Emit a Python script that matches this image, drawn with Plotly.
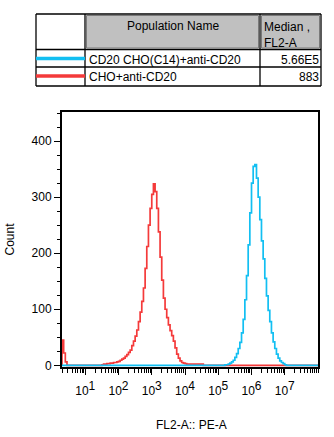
import plotly.graph_objects as go

# ---- data -------------------------------------------------------------
# Histogram channels on a log10 scale: each segment is (first bin edge in
# log10 units, bin width in log10 units, counts per bin).
BIN_W = 0.05

red_name = "CHO+anti-CD20"
red_median = "883"
red_spike_start = 0.30
red_spike = [45, 22, 6]
red_main_start = 1.50
red_main = [1, 2, 2, 3, 3, 4, 4, 5, 5, 6,
            7, 9, 11, 13, 16, 19, 23, 27, 35, 43,
            52, 63, 78, 95, 114, 138, 173, 212, 250, 280,
            305, 324, 310, 280, 238, 193, 152, 120, 100, 85,
            72, 62, 53, 43, 31, 20, 13, 8, 5, 4,
            3, 2, 2, 2, 2, 2, 2, 2, 2, 2, 2]

blue_name = "CD20 CHO(C14)+anti-CD20"
blue_median = "5.66E5"
blue_main_start = 5.20
blue_main = [1, 1, 2, 4, 6, 9, 14, 21, 30, 41,
             58, 82, 117, 160, 215, 272, 325, 355, 358, 334,
             300, 260, 222, 190, 155, 124, 98, 78, 58, 42,
             30, 20, 13, 8, 5, 3, 1]

x_decades = [1, 2, 3, 4, 5, 6, 7]
y_ticks = [0, 100, 200, 300, 400]

header_name = "Population Name"
header_stat = ["Median ,", "FL2-A"]

# ---- styling ----------------------------------------------------------
FONT = "Liberation Sans, Arial, sans-serif"
RED = "#f43a3a"
BLUE = "#12bff2"
X_RANGE = [0.30, 8.0]
Y_RANGE = [-3, 452]

W, H = 334, 437
ML, MR, MT, MB = 62, 16, 112, 70
PW, PH = W - ML - MR, H - MT - MB


def px(x):
    return (x - ML) / PW


def py(y):
    return (H - MB - y) / PH


def step_xy(segments, lo, hi):
    xs, ys = [lo], [0]
    for start, width, counts in segments:
        xs.append(start)
        ys.append(0)
        for i, c in enumerate(counts):
            xs.append(start + i * width)
            ys.append(c)
        xs.append(start + len(counts) * width)
        ys.append(0)
    xs.append(hi)
    ys.append(0)
    return [10 ** v for v in xs], ys


fig = go.Figure()

rx, ry = step_xy([(red_spike_start, BIN_W, red_spike),
                  (red_main_start, BIN_W, red_main)], X_RANGE[0], X_RANGE[1])
bx, by = step_xy([(blue_main_start, BIN_W, blue_main)], X_RANGE[0], X_RANGE[1])

fig.add_trace(go.Scatter(x=rx, y=ry, mode="lines", line=dict(color=RED, width=1.7, shape="hv"),
                         name=red_name, showlegend=False, hoverinfo="skip"))
fig.add_trace(go.Scatter(x=bx, y=by, mode="lines", line=dict(color=BLUE, width=1.7, shape="hv"),
                         name=blue_name, showlegend=False, hoverinfo="skip"))

fig.update_xaxes(
    type="log", range=X_RANGE,
    tickmode="array",
    tickvals=[10 ** d for d in x_decades],
    ticktext=[f"10<sup><span style='font-size:12px'>{d}</span></sup>" for d in x_decades],
    ticks="outside", ticklen=6, tickwidth=1.2, tickcolor="black",
    ticklabelstandoff=6,
    minor=dict(ticks="outside", ticklen=4, tickwidth=1, tickcolor="black", dtick="D1", showgrid=False),
    showline=True, linewidth=2, linecolor="black", mirror=True,
    showgrid=False, zeroline=False,
    tickfont=dict(family=FONT, size=12, color="black"),
)
fig.update_yaxes(
    range=Y_RANGE, tickmode="array", tickvals=y_ticks,
    ticks="outside", ticklen=6, tickwidth=1.2, tickcolor="black",
    minor=dict(ticks="outside", ticklen=3, tickwidth=1, tickcolor="black", dtick=25, showgrid=False),
    showline=True, linewidth=2, linecolor="black", mirror=True,
    showgrid=False, zeroline=False,
    tickfont=dict(family=FONT, size=12, color="black"),
)

shapes = []
annotations = []

# legend / statistics table above the plot
T_L, T_C1, T_C2, T_R = 36, 85, 260, 321
T_T, T_H, T_R1, T_B = 14, 49.5, 67, 86

# grey header cells with an inset border
for x0, x1 in [(T_C1, T_C2), (T_C2, T_R)]:
    shapes.append(dict(type="rect", xref="paper", yref="paper",
                       x0=px(x0 + 1.5), x1=px(x1 - 1.5), y0=py(T_T + 1.5), y1=py(T_H - 1.5),
                       fillcolor="#c0c0c0", line=dict(color="#7a7a7a", width=1), layer="below"))

# grid lines
for yv in [T_T, T_H, T_R1, T_B]:
    shapes.append(dict(type="line", xref="paper", yref="paper",
                       x0=px(T_L), x1=px(T_R), y0=py(yv), y1=py(yv),
                       line=dict(color="black", width=1.3)))
for xv in [T_L, T_C1, T_C2, T_R]:
    shapes.append(dict(type="line", xref="paper", yref="paper",
                       x0=px(xv), x1=px(xv), y0=py(T_T), y1=py(T_B),
                       line=dict(color="black", width=1.3)))

# colour swatches
for yv, col in [(58.5, BLUE), (76, RED)]:
    shapes.append(dict(type="line", xref="paper", yref="paper",
                       x0=px(T_L), x1=px(T_C1), y0=py(yv), y1=py(yv),
                       line=dict(color=col, width=3.5)))


def note(text, x, y, xanchor="left", angle=0):
    annotations.append(dict(text=text, x=px(x), y=py(y), xref="paper", yref="paper",
                            xanchor=xanchor, yanchor="middle", showarrow=False, textangle=angle,
                            font=dict(family=FONT, size=12, color="black")))


note(header_name, (T_C1 + T_C2) / 2, 26, "center")
note(header_stat[0], 261.5, 26.5)
note(header_stat[1], 261.5, 43)
note(blue_name, 87, 59.5)
note(blue_median, 320.5, 59.5, "right")
note(red_name, 87, 77)
note(red_median, 320.5, 77, "right")

# axis titles
note("Count", 9, (MT + H - MB) / 2, "center", -90)
note("FL2-A:: PE-A", 191, 425, "center")

fig.update_layout(
    width=W, height=H,
    margin=dict(l=ML, r=MR, t=MT, b=MB, autoexpand=False),
    plot_bgcolor="white", paper_bgcolor="white",
    shapes=shapes, annotations=annotations,
    font=dict(family=FONT, size=12, color="black"),
)

fig.write_html("out.html")
